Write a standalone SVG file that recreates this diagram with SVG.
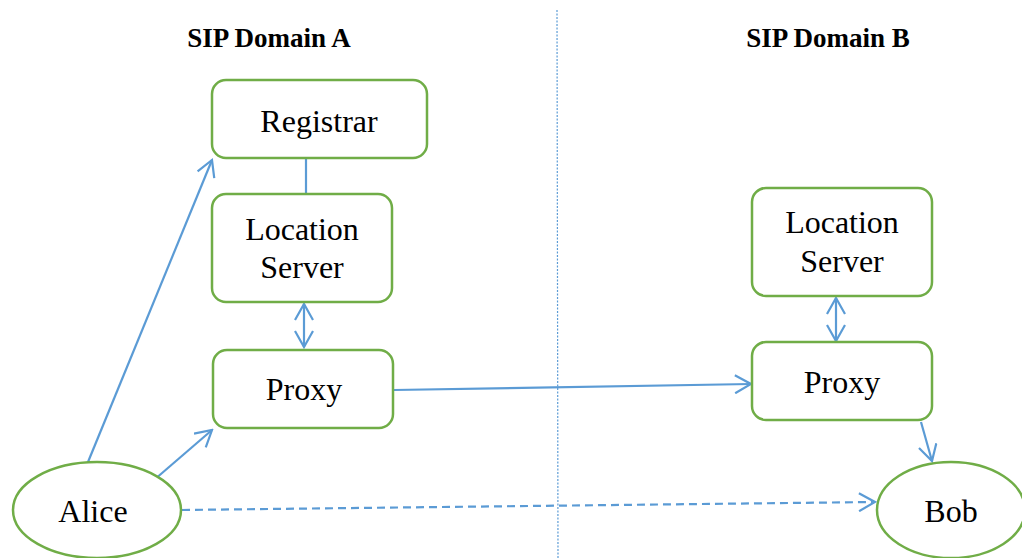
<svg xmlns="http://www.w3.org/2000/svg" width="1022" height="558" viewBox="0 0 1022 558">
  <style>
    .box { fill: #ffffff; stroke: #70AD47; stroke-width: 2.5; }
    .lbl { font-family: "Liberation Serif", "Times New Roman", serif; font-size: 32px; fill: #000000; text-anchor: middle; }
    .title { font-family: "Liberation Serif", "Times New Roman", serif; font-size: 27px; font-weight: bold; fill: #000000; text-anchor: middle; }
    .link { fill: none; stroke: #5B9BD5; stroke-width: 2.2; }
    .dash { stroke-dasharray: 8 5; }
    .divider { fill: none; stroke: #5B9BD5; stroke-width: 1.2; stroke-dasharray: 2 1.5; }
  </style>
  <defs>
    <marker id="open" viewBox="-18 -10 20 20" refX="0" refY="0" markerWidth="20" markerHeight="20" markerUnits="userSpaceOnUse" orient="auto-start-reverse">
      <path d="M-16,-9 L0,0 L-16,9" fill="none" stroke="#5B9BD5" stroke-width="2.2"/>
    </marker>
  </defs>

  <rect width="1022" height="558" fill="#ffffff"/>

  <!-- domain split -->
  <line class="divider" x1="557" y1="10" x2="558" y2="558"/>

  <text class="title" x="269" y="47">SIP Domain A</text>
  <text class="title" x="828" y="47">SIP Domain B</text>

  <g id="connectors">
    <line class="link" x1="306" y1="158" x2="306" y2="194"/>
    <line class="link" x1="88" y1="462" x2="212" y2="160" marker-end="url(#open)"/>
    <line class="link" x1="147" y1="486" x2="212" y2="430" marker-end="url(#open)"/>
    <line class="link" x1="304" y1="304" x2="304" y2="347" marker-start="url(#open)" marker-end="url(#open)"/>
    <line class="link" x1="836" y1="298" x2="836" y2="341" marker-start="url(#open)" marker-end="url(#open)"/>
    <line class="link" x1="394" y1="390" x2="751" y2="384" marker-end="url(#open)"/>
    <line class="link" x1="921" y1="422" x2="932" y2="461" marker-end="url(#open)"/>
    <line class="link dash" x1="182" y1="510" x2="875" y2="502" marker-end="url(#open)"/>
  </g>

  <g id="registrar">
    <rect class="box" x="212" y="80" width="215" height="78" rx="14"/>
    <text class="lbl" x="319" y="132">Registrar</text>
  </g>

  <g id="location-a">
    <rect class="box" x="212" y="194" width="180" height="108" rx="14"/>
    <text class="lbl" x="302" y="240">Location</text>
    <text class="lbl" x="302" y="278">Server</text>
  </g>

  <g id="proxy-a">
    <rect class="box" x="213" y="350" width="180" height="78" rx="14"/>
    <text class="lbl" x="304" y="400">Proxy</text>
  </g>

  <g id="location-b">
    <rect class="box" x="752" y="188" width="180" height="108" rx="14"/>
    <text class="lbl" x="842" y="233">Location</text>
    <text class="lbl" x="842" y="272">Server</text>
  </g>

  <g id="proxy-b">
    <rect class="box" x="752" y="342" width="180" height="78" rx="14"/>
    <text class="lbl" x="842" y="393">Proxy</text>
  </g>

  <g id="alice">
    <ellipse class="box" cx="97" cy="510" rx="84" ry="48"/>
    <text class="lbl" x="93" y="522">Alice</text>
  </g>

  <g id="bob">
    <ellipse class="box" cx="951" cy="510" rx="74" ry="48"/>
    <text class="lbl" x="951" y="522">Bob</text>
  </g>
</svg>
